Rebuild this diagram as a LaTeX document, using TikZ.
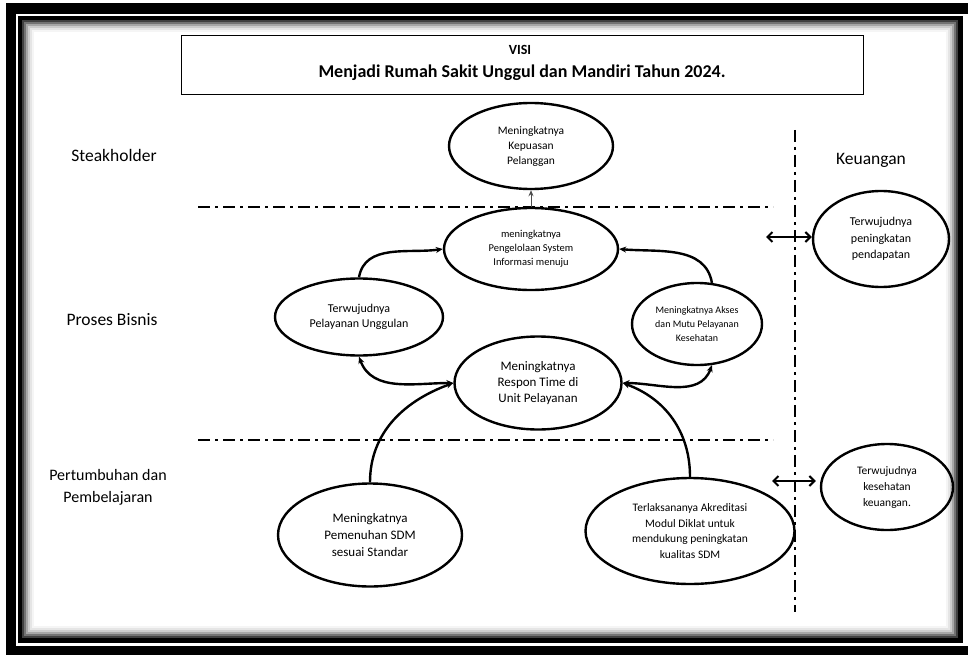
\documentclass[tikz,border=0pt]{standalone}
\usepackage{fontspec}
\setmainfont{Carlito}
\usetikzlibrary{arrows.meta,shapes.geometric}
\begin{document}
\begin{tikzpicture}[x=1pt,y=-1pt,
  goal/.style={draw=black,line width=2.4pt,ellipse,minimum width=#1,align=center,inner sep=0pt},
  sep/.style={line width=2.4pt,dash pattern=on 12pt off 5pt on 3pt off 5pt},
  conn/.style={line width=2.4pt,-{Stealth[length=7pt,width=6pt]}},
  dconn/.style={line width=2.4pt,{Stealth[length=7pt,width=6pt]}-{Stealth[length=7pt,width=6pt]}},
  barb/.style={line width=2pt,{Straight Barb[length=5pt,width=10pt]}-{Straight Barb[length=5pt,width=10pt]}},
  lbl/.style={align=center,inner sep=0pt}]
\useasboundingbox (0,0) rectangle (968,655);
% frame
\fill[black] (6,3) rectangle (968,14);
\fill[black] (6,3) rectangle (16,655);
\fill[black] (6,646) rectangle (968,655);
\fill[black] (18,16) rectangle (963,643);
\fill[black!75] (22,20) rectangle (958,638);
\fill[black!55] (24,22) rectangle (956,636);
\fill[black!35] (26,24) rectangle (954,634);
\fill[black!20] (28,26) rectangle (952,632);
\fill[black!10] (30,28) rectangle (950,630);
\fill[black!4] (32,30) rectangle (948,628);
\fill[white] (34,32) rectangle (946,626);
% vision box
\node[draw,line width=1.2pt,minimum width=682pt,minimum height=59pt,anchor=north west,inner sep=0pt] (visi) at (181,35) {};
\node[lbl,font=\fontsize{14}{14}\selectfont\bfseries] (visit) at (520,50) {VISI};
\node[lbl,font=\fontsize{18}{18}\selectfont\bfseries] (visim) at (522,73) {Menjadi Rumah Sakit Unggul dan Mandiri Tahun 2024.};
% side labels
\node[lbl,font=\fontsize{17.5}{19}\selectfont] (stk) at (114,155) {Steakholder};
\node[lbl,font=\fontsize{17.5}{19}\selectfont] (pb) at (112,320) {Proses Bisnis};
\node[lbl,font=\fontsize{16}{22}\selectfont] (pp) at (108,487) {Pertumbuhan dan\\Pembelajaran};
\node[lbl,font=\fontsize{17.5}{19}\selectfont] (keu) at (871,160) {Keuangan};
% separators
\draw[sep] (198,207) -- (773,207);
\draw[sep] (198,440) -- (773,440);
\draw[sep] (795,130) -- (795,612);
% goals
\node[goal=164pt,minimum height=86pt,font=\fontsize{11.5}{15}\selectfont] (kep) at (531,146) {Meningkatnya\\Kepuasan\\Pelanggan};
\node[goal=174pt,minimum height=82pt,font=\fontsize{10.5}{14}\selectfont] (info) at (531,249) {meningkatnya\\Pengelolaan System\\Informasi menuju};
\node[goal=168pt,minimum height=77pt,font=\fontsize{12}{14.5}\selectfont] (pu) at (359,317) {Terwujudnya\\Pelayanan Unggulan};
\node[goal=130pt,minimum height=82pt,font=\fontsize{10}{14}\selectfont] (ak) at (697,324) {Meningkatnya Akses\\dan Mutu Pelayanan\\Kesehatan};
\node[goal=167pt,minimum height=93pt,font=\fontsize{13}{16}\selectfont] (rt) at (538,383) {Meningkatnya\\Respon Time di\\Unit Pelayanan};
\node[goal=184pt,minimum height=103pt,font=\fontsize{13}{17}\selectfont] (sdm) at (370,535) {Meningkatnya\\Pemenuhan SDM\\sesuai Standar};
\node[goal=209pt,minimum height=106pt,font=\fontsize{11.5}{15.5}\selectfont] (akr) at (690,531) {Terlaksananya Akreditasi\\Modul Diklat untuk\\mendukung peningkatan\\kualitas SDM};
\node[goal=136pt,minimum height=96pt,font=\fontsize{12}{16.5}\selectfont] (pend) at (881,239) {Terwujudnya\\peningkatan\\pendapatan};
\node[goal=132pt,minimum height=86pt,font=\fontsize{11.5}{16}\selectfont] (kes) at (887,487) {Terwujudnya\\kesehatan\\keuangan.};
% connectors
\draw[line width=1pt,draw=black!70,-{Stealth[length=6pt,width=5pt]}] (info.north) -- (kep.south);
\draw[conn] (pu.north) to[out=80,in=188] (info.west);
\draw[conn] (ak.70) to[out=100,in=-5] (info.east);
\draw[dconn] (pu.south) to[out=-70,in=180] (rt.west);
\draw[dconn] (rt.east) to[out=0,in=-110] (ak.-70);
\draw[conn] (sdm.north) to[out=90,in=200] (rt.west);
\draw[conn] (akr.north) to[out=90,in=-20] (rt.east);
\coordinate (a1l) at (766,237);
\coordinate (a2l) at (772,481);
\draw[barb] (a1l) -- (a1l -| pend.west);
\draw[barb] (a2l) -- ([xshift=-4pt]a2l -| kes.west);
\end{tikzpicture}
\end{document}
